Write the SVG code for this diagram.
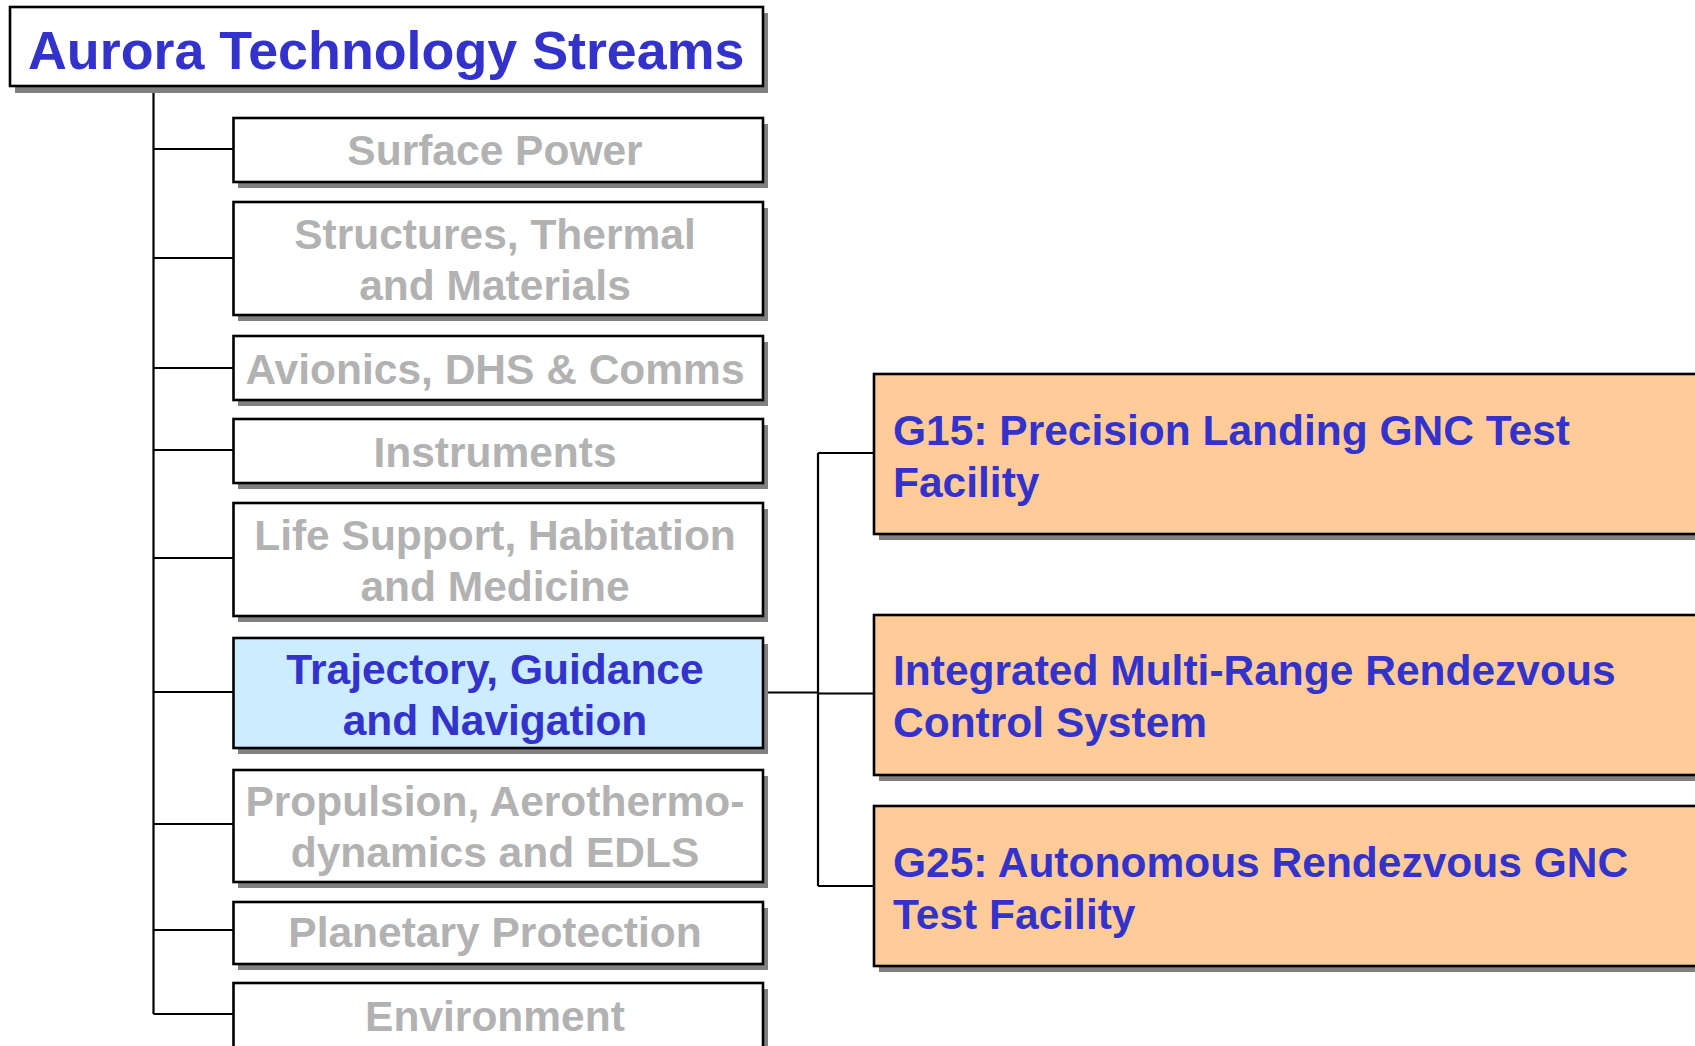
<svg xmlns="http://www.w3.org/2000/svg" width="1695" height="1046" viewBox="0 0 1695 1046">
<style>
.shadow{fill:#808080}
.box{stroke:#000;stroke-width:2.6}
.plain{fill:#fff}
.sel{fill:#CCECFF}
.orange{fill:#FFCC99}
.t{font-family:"Liberation Sans",Arial,sans-serif;font-weight:bold}
.gray{fill:#B2B2B2;font-size:42.5px;text-anchor:middle}
.blue{fill:#3333CC;font-size:42.5px}
.conn{fill:none;stroke:#000;stroke-width:2.2}
</style>
<rect width="1695" height="1046" fill="#fff"/>
<g id="connectors">
<path class="conn" d="M153.5 86 V1014 M153.5 149 H233.5 M153.5 258 H233.5 M153.5 368 H233.5 M153.5 450 H233.5 M153.5 558 H233.5 M153.5 692 H233.5 M153.5 824 H233.5 M153.5 930 H233.5 M153.5 1014 H233.5"/>
<path class="conn" d="M763 692.5 H818 M818 453 V886 M818 453 H874 M818 693.5 H874 M818 886 H874"/>
</g>
<g id="title">
<rect class="shadow" x="15" y="13" width="753" height="80"/>
<rect class="box plain" x="10" y="7" width="753" height="79"/>
<text class="t" x="28" y="69" fill="#3333CC" font-size="53.8">Aurora Technology Streams</text>
</g>
<g id="surface-power">
<rect class="shadow" x="238" y="124" width="530" height="64"/>
<rect class="box plain" x="233.5" y="118" width="529.5" height="64"/>
<text class="t gray" x="495" y="165">Surface Power</text>
</g>
<g id="structures">
<rect class="shadow" x="238" y="208" width="530" height="113"/>
<rect class="box plain" x="233.5" y="202" width="529.5" height="113"/>
<text class="t gray" x="495" y="249">Structures, Thermal</text>
<text class="t gray" x="495" y="300">and Materials</text>
</g>
<g id="avionics">
<rect class="shadow" x="238" y="342" width="530" height="64"/>
<rect class="box plain" x="233.5" y="336" width="529.5" height="64"/>
<text class="t gray" x="495" y="384">Avionics, DHS &amp; Comms</text>
</g>
<g id="instruments">
<rect class="shadow" x="238" y="425" width="530" height="64"/>
<rect class="box plain" x="233.5" y="419" width="529.5" height="64"/>
<text class="t gray" x="495" y="467">Instruments</text>
</g>
<g id="life-support">
<rect class="shadow" x="238" y="509" width="530" height="113"/>
<rect class="box plain" x="233.5" y="503" width="529.5" height="113"/>
<text class="t gray" x="495" y="550">Life Support, Habitation</text>
<text class="t gray" x="495" y="601">and Medicine</text>
</g>
<g id="trajectory">
<rect class="shadow" x="238" y="644" width="530" height="110"/>
<rect class="box sel" x="233.5" y="638" width="529.5" height="110"/>
<text class="t blue" x="495" y="684" text-anchor="middle">Trajectory, Guidance</text>
<text class="t blue" x="495" y="735" text-anchor="middle">and Navigation</text>
</g>
<g id="propulsion">
<rect class="shadow" x="238" y="776" width="530" height="112"/>
<rect class="box plain" x="233.5" y="770" width="529.5" height="112"/>
<text class="t gray" x="495" y="816">Propulsion, Aerothermo-</text>
<text class="t gray" x="495" y="867">dynamics and EDLS</text>
</g>
<g id="planetary">
<rect class="shadow" x="238" y="908" width="530" height="62"/>
<rect class="box plain" x="233.5" y="902" width="529.5" height="62"/>
<text class="t gray" x="495" y="947">Planetary Protection</text>
</g>
<g id="environment">
<rect class="shadow" x="238" y="989" width="530" height="70"/>
<rect class="box plain" x="233.5" y="983" width="529.5" height="70"/>
<text class="t gray" x="495" y="1031">Environment</text>
</g>
<g id="g15">
<rect class="shadow" x="879" y="380" width="830" height="160"/>
<rect class="box orange" x="874" y="374" width="830" height="160"/>
<text class="t blue" x="893" y="445">G15: Precision Landing GNC Test</text>
<text class="t blue" x="893" y="497">Facility</text>
</g>
<g id="imrcs">
<rect class="shadow" x="879" y="621" width="830" height="160"/>
<rect class="box orange" x="874" y="615" width="830" height="160"/>
<text class="t blue" x="893" y="685">Integrated Multi-Range Rendezvous</text>
<text class="t blue" x="893" y="737">Control System</text>
</g>
<g id="g25">
<rect class="shadow" x="879" y="812" width="830" height="160"/>
<rect class="box orange" x="874" y="806" width="830" height="160"/>
<text class="t blue" x="893" y="877">G25: Autonomous Rendezvous GNC</text>
<text class="t blue" x="893" y="929">Test Facility</text>
</g>
</svg>
